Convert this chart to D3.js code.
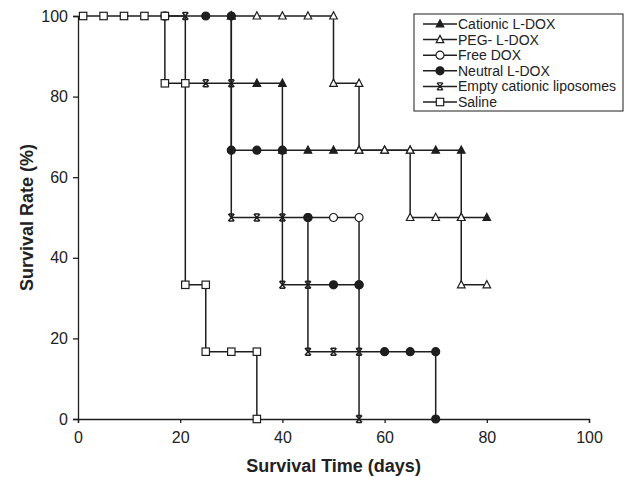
<!DOCTYPE html>
<html>
<head>
<meta charset="utf-8">
<script src="https://cdn.jsdelivr.net/npm/d3@7"></script>
<style>
  body { margin: 0; background: #fff; }
  text { font-family: "Liberation Sans", Arial, sans-serif; fill: #222; }
</style>
</head>
<body>
<script>
// survival data, one pair of arrays per group (days, % surviving)
const cationicT = [30, 35, 40, 40, 45, 50, 55, 60, 65, 70, 75, 75, 80];
const cationicS = [100, 83.3, 83.3, 66.7, 66.7, 66.7, 66.7, 66.7, 66.7, 66.7, 66.7, 50, 50];

const pegT = [30, 35, 40, 45, 50, 50, 55, 55, 60, 65, 65, 70, 75, 75, 80];
const pegS = [100, 100, 100, 100, 100, 83.3, 83.3, 66.7, 66.7, 66.7, 50, 50, 50, 33.3, 33.3];

const freeT = [45, 50, 55, 55];
const freeS = [50, 50, 50, 33.3];

const neutralT = [17, 25, 30, 30, 35, 40, 45, 50, 55, 60, 65, 70, 70];
const neutralS = [100, 100, 100, 66.7, 66.7, 66.7, 50, 33.3, 33.3, 16.7, 16.7, 16.7, 0];

const emptyT = [17, 21, 25, 30, 30, 35, 40, 40, 45, 45, 50, 55, 55];
const emptyS = [100, 100, 83.3, 83.3, 50, 50, 50, 33.3, 33.3, 16.7, 16.7, 16.7, 0];

const salineT = [1, 5, 9, 13, 17, 17, 21, 21, 25, 25, 30, 35, 35];
const salineS = [100, 100, 100, 100, 100, 83.3, 83.3, 33.3, 33.3, 16.7, 16.7, 16.7, 0];

const seriesNames = ["Cationic L-DOX", "PEG- L-DOX", "Free DOX", "Neutral L-DOX", "Empty cationic liposomes", "Saline"];
const seriesMarks = ["triFilled", "triOpen", "circleOpen", "circleFilled", "star", "square"];
const xTicks = [0, 20, 40, 60, 80, 100];
const yTicks = [0, 20, 40, 60, 80, 100];

const groups = [
    [cationicT, cationicS], [pegT, pegS], [freeT, freeS],
    [neutralT, neutralS], [emptyT, emptyS], [salineT, salineS]
].map(function(p, i) {
    return {
        name: seriesNames[i],
        mark: seriesMarks[i],
        pts: p[0].map(function(t, j) { return {t: t, s: p[1][j]}; })
    };
});

const width = 634, height = 477;
const ink = "#1e1e1e";

const svg = d3.select("body").append("svg")
    .attr("width", width)
    .attr("height", height);

const x = d3.scaleLinear().domain([0, 100]).range([78, 589]);
const y = d3.scaleLinear().domain([0, 100]).range([419, 16]);

// axes
const xAxis = svg.append("g")
    .attr("transform", "translate(0," + y(0) + ")")
    .call(d3.axisBottom(x).tickValues(xTicks).tickSize(4).tickPadding(9));
const yAxis = svg.append("g")
    .attr("transform", "translate(" + x(0) + ",0)")
    .call(d3.axisLeft(y).tickValues(yTicks).tickSize(5).tickPadding(5));

[xAxis, yAxis].forEach(function(a) {
    a.select(".domain").attr("stroke", ink).attr("stroke-width", 1.3);
    a.selectAll(".tick line").attr("stroke", ink).attr("stroke-width", 1.3);
    a.selectAll(".tick text")
        .style("font-family", "'Liberation Sans', Arial, sans-serif")
        .style("font-size", "16px")
        .attr("fill", "#222");
});

svg.append("text")
    .attr("x", (x(0) + x(100)) / 2)
    .attr("y", 472)
    .attr("text-anchor", "middle")
    .style("font-size", "18px")
    .style("font-weight", "bold")
    .text("Survival Time (days)");

svg.append("text")
    .attr("transform", "translate(33," + (y(0) + y(100)) / 2 + ") rotate(-90)")
    .attr("text-anchor", "middle")
    .style("font-size", "18px")
    .style("font-weight", "bold")
    .text("Survival Rate (%)");

// step lines
const line = d3.line()
    .x(function(d) { return x(d.t); })
    .y(function(d) { return y(d.s); })
    .curve(d3.curveStepBefore);

svg.append("g").selectAll("path")
    .data(groups)
    .enter().append("path")
    .attr("d", function(d) { return line(d.pts); })
    .attr("fill", "none")
    .attr("stroke", ink)
    .attr("stroke-width", 1.5);

function drawMark(g, mark) {
    if (mark == "square") {
        g.append("rect").attr("x", -3.7).attr("y", -3.7).attr("width", 7.4).attr("height", 7.4)
            .attr("fill", "#fff").attr("stroke", ink).attr("stroke-width", 1.2);
    } else if (mark == "circleFilled" || mark == "circleOpen") {
        g.append("circle").attr("r", 4)
            .attr("fill", mark == "circleFilled" ? ink : "#fff")
            .attr("stroke", ink).attr("stroke-width", 1.2);
    } else if (mark == "triFilled" || mark == "triOpen") {
        g.append("path").attr("d", "M0,-4.2L3.8,3L-3.8,3Z")
            .attr("fill", mark == "triFilled" ? ink : "#fff")
            .attr("stroke", ink).attr("stroke-width", 1.2);
    } else if (mark == "star") {
        g.append("path").attr("d", "M-3,-3.5L3,3.5M3,-3.5L-3,3.5M-2.5,-3.5H2.5M-2.5,3.5H2.5")
            .attr("fill", "none").attr("stroke", ink).attr("stroke-width", 1.4);
    }
}

// markers on top of all lines, in series order
groups.forEach(function(grp) {
    svg.append("g").selectAll("g")
        .data(grp.pts)
        .enter().append("g")
        .attr("transform", function(d) { return "translate(" + x(d.t) + "," + y(d.s) + ")"; })
        .each(function() { drawMark(d3.select(this), grp.mark); });
});

// legend
const legend = svg.append("g").attr("transform", "translate(414,14)");
legend.append("rect")
    .attr("width", 209).attr("height", 97)
    .attr("fill", "#fff").attr("stroke", ink).attr("stroke-width", 1);

const item = legend.selectAll(".item")
    .data(groups)
    .enter().append("g")
    .attr("class", "item")
    .attr("transform", function(d, i) { return "translate(0," + (10 + i * 15.6) + ")"; });

item.append("line")
    .attr("x1", 9).attr("x2", 43)
    .attr("stroke", ink).attr("stroke-width", 1.5);
item.append("g")
    .attr("transform", "translate(26,0)")
    .each(function(d) { drawMark(d3.select(this), d.mark); });
item.append("text")
    .attr("x", 44).attr("y", 5)
    .style("font-size", "14px")
    .text(function(d) { return d.name; });
</script>
</body>
</html>
